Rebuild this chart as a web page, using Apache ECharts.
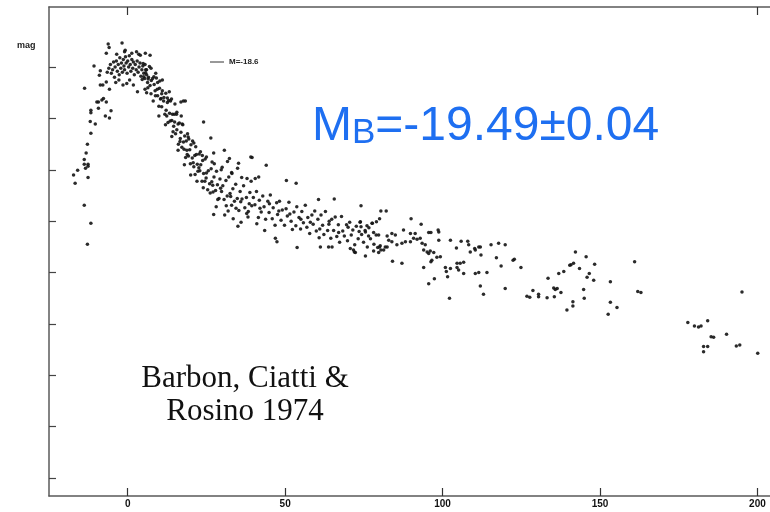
<!DOCTYPE html>
<html>
<head>
<meta charset="utf-8">
<title>SN light curve</title>
<script src="https://cdn.jsdelivr.net/npm/echarts@6/dist/echarts.min.js"></script>
<style>
  html, body { margin: 0; padding: 0; background: #fff; }
  #chart { width: 770px; height: 512px; }
</style>
</head>
<body>
<div id="chart"></div>
<script>
// days from maximum, magnitudes below the top tick (bigger = fainter)
const xTicks = [0, 50, 100, 150, 200];
const topTicks = [0, 200];
const yTicks = [0, 1, 2, 3, 4, 5, 6, 7, 8];

// rising branch
const risePts = [
  [-11.7, 1.29], [-12.8, 1.50], [-13.2, 1.67], [-13.8, 1.80], [-13.8, 1.89], [-12.6, 1.89],
  [-12.6, 1.93], [-13.4, 1.97], [-15.9, 2.01], [-17.2, 2.10], [-16.7, 2.26], [-12.6, 2.15],
  [-13.8, 2.69], [-11.7, 3.04], [-12.8, 3.45], [-13.7, 0.41], [-11.9, 1.06], [-10.3, 1.11],
  [-11.7, 0.84], [-11.7, 0.89], [-10.7, -0.02], [-9.8, 0.68], [-9.3, 0.68], [-8.2, 0.64],
  [-7.7, 0.61], [-6.8, 0.68], [-9.3, 0.80], [-5.3, 0.85], [-7.1, 0.95], [-5.8, 0.99],
  [-8.7, 0.07], [-9.0, 0.16], [-7.9, 0.35], [-8.7, 0.35], [-5.8, 0.43], [-6.8, 0.29],
  [-6.8, -0.27], [-5.9, -0.38], [-6.2, -0.45], [-0.3, 0.32], [-1.5, 0.35], [3.1, 0.48]
];

// around maximum
const peakPts = [
  [-6.5, 0.10], [-6.0, 0.02], [-5.5, -0.05], [-5.2, 0.12], [-4.8, 0.05], [-4.5, -0.10],
  [-4.2, 0.20], [-4.0, 0.00], [-3.6, -0.12], [-3.3, 0.08], [-3.0, -0.05], [-2.7, 0.15],
  [-2.5, -0.18], [-2.2, 0.02], [-2.0, -0.08], [-1.7, 0.10], [-1.4, -0.15], [-1.2, -0.02],
  [-1.0, 0.05], [-0.7, -0.20], [-0.5, -0.08], [-0.2, 0.12], [0.0, -0.12], [0.3, 0.00],
  [0.5, -0.22], [0.8, -0.05], [1.0, 0.08], [1.3, -0.15], [1.6, 0.02], [1.8, -0.10],
  [2.1, 0.15], [2.4, -0.05], [2.7, 0.05], [3.0, -0.12], [3.3, 0.10], [3.6, 0.00],
  [3.9, -0.08], [4.2, 0.18], [4.5, 0.05], [4.8, -0.02], [5.1, 0.12], [5.4, 0.22],
  [5.7, 0.05], [6.0, 0.15], [6.3, 0.30], [6.6, 0.20], [-3.8, 0.30], [-2.8, 0.25],
  [0.6, 0.25], [1.8, 0.35], [2.8, -0.30], [-1.0, -0.30], [3.5, -0.25], [-3.5, -0.25],
  [5.5, -0.05], [-1.8, -0.47], [4.0, -0.23], [5.6, -0.27], [7.1, -0.23], [1.3, -0.27],
  [-0.8, -0.33]
];

// fast decline
const declinePts = [
  [4.6, 0.24], [4.9, -0.07], [5.1, 0.19], [5.5, 0.43], [5.7, 0.11], [6.0, 0.05], [6.4, 0.40],
  [6.5, 0.23], [6.9, -0.01], [7.1, 0.36], [7.4, 0.52], [7.5, 0.26], [7.9, 0.22], [8.1, 0.66],
  [8.3, 0.19], [8.7, 0.46], [8.8, 0.56], [9.1, 0.21], [9.4, 0.43], [9.5, 0.56], [9.9, 0.76],
  [10.1, 0.41], [10.2, 0.27], [10.6, 0.61], [10.8, 0.77], [11.0, 0.46], [11.4, 0.66], [11.5, 0.59],
  [11.8, 0.92], [12.1, 0.51], [12.2, 0.84], [12.6, 0.69], [12.8, 1.08], [13.0, 0.65], [13.3, 0.90],
  [13.5, 1.05], [13.6, 0.66], [14.0, 1.04], [14.2, 0.92], [14.4, 1.26], [14.8, 0.92], [14.9, 1.07],
  [15.2, 1.30], [15.5, 0.92], [15.6, 1.22], [16.0, 1.11], [16.1, 1.50], [16.4, 1.09], [16.7, 1.39],
  [16.9, 1.27], [17.2, 1.56], [17.3, 1.11], [17.7, 1.46], [17.9, 1.60], [18.1, 1.34], [18.4, 1.76],
  [18.6, 1.44], [18.8, 1.62], [19.2, 1.36], [19.3, 1.73], [19.7, 1.61], [19.9, 1.88], [20.1, 1.51],
  [20.5, 1.77], [20.6, 1.44], [21.0, 1.94], [21.3, 1.72], [21.4, 2.09], [21.8, 1.70], [22.1, 1.89],
  [22.3, 2.03], [22.7, 1.69], [22.9, 2.02], [23.2, 1.90], [23.6, 2.22], [23.8, 1.82], [24.1, 2.07],
  [24.5, 2.22], [24.6, 1.79], [25.0, 2.06], [25.4, 2.39], [25.6, 2.02], [26.0, 2.27], [26.5, 1.98],
  [26.7, 2.23], [27.1, 2.43], [27.4, 2.14], [27.9, 2.40], [28.2, 2.03], [28.5, 2.29], [29.0, 2.56],
  [29.3, 2.18], [29.8, 2.42], [30.2, 2.31], [30.6, 2.58], [31.2, 2.21], [31.6, 2.51], [32.1, 2.14],
  [32.5, 2.46], [33.0, 2.69], [33.4, 2.37], [33.9, 2.61], [34.3, 2.28], [34.8, 2.56], [35.3, 2.79],
  [35.7, 2.42], [36.3, 2.57], [36.8, 2.31], [37.2, 2.74], [37.7, 2.54], [38.3, 2.81], [38.8, 2.44],
  [39.4, 2.70], [39.9, 2.54],
  [6.0, 0.50], [7.4, 0.02], [8.9, 0.12], [9.9, 0.95], [11.0, 0.25], [12.0, 1.12], [13.2, 0.48],
  [14.0, 1.35], [15.0, 0.72], [16.0, 1.62], [17.0, 0.95], [18.0, 1.90], [19.0, 1.30], [20.0, 2.10],
  [21.0, 1.48], [22.0, 2.22], [23.1, 1.65], [24.0, 2.35], [25.0, 1.75], [26.2, 2.45], [27.5, 1.88],
  [28.6, 2.58], [30.0, 1.95], [31.3, 2.70], [33.0, 2.05], [34.4, 2.75], [36.2, 2.15], [37.8, 2.85],
  [39.2, 2.22], [9.5, 0.30], [10.8, 0.52], [12.6, 0.60], [13.9, 0.62], [15.6, 0.88], [17.5, 1.12],
  [19.4, 1.40], [21.6, 1.55], [23.7, 1.72], [26.8, 1.85], [29.7, 2.00],
  [8.4, 0.34], [10.4, 0.62], [12.4, 0.95], [14.6, 1.15], [16.6, 1.45], [18.9, 1.70], [20.8, 1.86],
  [22.6, 1.96], [24.9, 2.16], [27.0, 2.30], [29.5, 2.36], [32.7, 2.52], [35.9, 2.62], [38.6, 2.66],
  [33.5, 2.95], [36.0, 3.02], [38.2, 2.92], [30.8, 2.88], [35.0, 3.10], [28.1, 2.72], [31.9, 2.80],
  [17.7, 0.66], [18.3, 0.66], [16.9, 0.68], [24.1, 1.07], [26.4, 1.38], [27.3, 1.67], [30.7, 1.62],
  [32.3, 1.78], [31.7, 1.84], [35.2, 1.87], [34.9, 1.97], [39.5, 1.76], [37.9, 2.17], [33.1, 2.07],
  [39.1, 1.75], [27.3, 2.87]
];

// slower decline, days 40-80
const slowPts = [
  [40.4, 2.68], [40.9, 2.42], [41.5, 2.93], [41.8, 2.59], [42.4, 2.82], [42.9, 2.51], [43.3, 2.72],
  [43.8, 2.96], [44.5, 2.61], [44.9, 2.83], [45.3, 2.49], [45.9, 2.95], [46.2, 2.74], [46.8, 3.08],
  [47.3, 2.64], [47.6, 2.87], [48.2, 2.61], [48.7, 2.98], [49.1, 2.78], [49.8, 3.08], [50.3, 2.76],
  [50.7, 2.90], [51.2, 2.63], [51.9, 3.00], [52.3, 3.16], [52.8, 2.82], [53.4, 3.09], [53.7, 2.72],
  [54.4, 2.93], [54.9, 3.15], [55.3, 2.81], [55.8, 3.03], [56.4, 2.69], [56.9, 3.12], [57.2, 2.93],
  [57.8, 3.24], [58.5, 2.88], [58.9, 3.06], [59.4, 2.80], [59.9, 3.19], [60.4, 2.96], [60.8, 3.32],
  [61.4, 2.88], [61.9, 3.08], [62.3, 3.26], [62.8, 2.81], [63.5, 3.18], [63.9, 3.06], [64.5, 3.33],
  [64.8, 2.96], [65.4, 3.18], [65.9, 2.92], [66.4, 3.30], [66.9, 3.07], [67.3, 3.41], [67.9, 2.91],
  [68.3, 3.19], [68.8, 3.29], [69.5, 3.07], [69.8, 3.38], [70.5, 3.02], [71.0, 3.27], [71.5, 3.17],
  [72.1, 3.46], [72.6, 3.10], [73.2, 3.34], [73.8, 3.02], [74.3, 3.26], [74.9, 3.41], [75.4, 3.18],
  [76.1, 3.50], [76.6, 3.13], [77.1, 3.34], [77.7, 3.04], [78.2, 3.45], [78.9, 3.27], [79.4, 3.51],
  [42.0, 2.75], [45.0, 2.66], [48.0, 2.80], [51.5, 2.86], [55.0, 2.96], [58.0, 3.02], [61.0, 3.15],
  [64.0, 3.00], [67.0, 3.22], [70.0, 3.12], [73.5, 3.20], [41.0, 3.05], [43.5, 3.18],
  [40.5, 2.17], [41.6, 2.14], [44.0, 1.91], [53.5, 2.26], [50.4, 2.21], [60.6, 2.58], [65.6, 2.57],
  [74.1, 2.70], [46.9, 3.33], [47.4, 3.40], [53.8, 3.51], [61.2, 3.50], [63.8, 3.50], [64.9, 3.50],
  [71.7, 3.56], [72.3, 3.61], [75.5, 3.68], [70.7, 3.53], [72.0, 3.60]
];

// late tail, days 73-125
const tailPts = [
  [73.9, 3.01], [74.1, 3.11], [76.0, 3.09], [77.6, 3.04], [79.0, 3.01], [80.0, 2.95], [75.5, 3.21],
  [78.1, 3.22], [76.5, 3.29], [79.7, 3.27], [82.4, 3.29], [83.9, 3.24], [85.0, 3.27], [82.9, 3.37],
  [83.9, 3.40], [81.8, 3.50], [80.2, 3.48], [81.3, 3.56], [78.1, 3.58], [79.7, 3.61], [85.5, 3.46],
  [87.1, 3.43], [88.2, 3.40], [87.6, 3.17], [89.8, 3.24], [91.3, 3.24], [90.8, 3.33], [91.9, 3.35],
  [92.9, 3.33], [93.5, 3.43], [89.8, 3.40], [94.0, 3.56], [95.1, 3.60], [96.1, 3.58], [95.6, 3.63],
  [97.2, 3.61], [96.6, 3.76], [96.3, 3.79], [98.2, 3.70], [98.8, 3.21], [98.8, 3.37], [94.5, 3.46],
  [105.6, 3.82], [112.2, 3.66], [80.4, 2.80], [82.1, 2.80], [90.0, 2.95], [93.2, 3.06], [98.6, 3.17],
  [96.3, 3.22], [95.6, 3.22], [102.5, 3.37], [105.9, 3.39], [108.0, 3.39], [108.3, 3.46], [115.4, 3.46],
  [117.8, 3.43], [119.9, 3.46], [104.4, 3.52], [110.2, 3.53], [111.5, 3.50], [84.1, 3.78], [87.1, 3.82],
  [94.0, 3.90], [97.4, 4.12], [95.6, 4.22], [102.2, 4.50], [112.0, 4.26], [113.0, 4.42], [119.9, 4.31],
  [124.9, 3.90], [118.6, 3.87], [122.4, 3.76], [122.8, 3.74], [117.1, 3.71], [114.1, 4.00], [110.4, 4.02],
  [111.5, 4.00], [106.7, 4.02], [105.1, 3.95], [104.6, 3.90], [102.5, 3.92], [100.9, 3.90], [101.2, 3.98],
  [101.6, 4.08], [99.3, 3.69], [106.7, 3.80], [104.6, 3.82], [108.8, 3.60], [110.4, 3.56], [112.0, 3.50],
  [80.0, 3.50], [80.4, 3.56], [82.4, 3.50]
];

// last months
const latePts = [
  [142.2, 3.60], [145.6, 3.69], [148.3, 3.84], [141.6, 3.82], [140.8, 3.85], [140.4, 3.86], [143.5, 3.92],
  [138.5, 3.98], [136.9, 4.02], [133.5, 4.11], [146.6, 4.02], [145.9, 4.09], [148.0, 4.15], [135.3, 4.30],
  [136.4, 4.31], [135.8, 4.33], [137.6, 4.39], [144.8, 4.33], [145.0, 4.50], [141.4, 4.57], [141.4, 4.65],
  [139.5, 4.73], [153.3, 4.18], [153.3, 4.58], [155.4, 4.68], [152.6, 4.81], [161.0, 3.79], [162.0, 4.37],
  [163.0, 4.39], [195.1, 4.38], [177.9, 4.97], [180.0, 5.04], [181.3, 5.06], [182.1, 5.04], [184.2, 4.94],
  [185.3, 5.25], [186.1, 5.26], [190.2, 5.20], [182.9, 5.44], [184.2, 5.44], [182.9, 5.54], [193.3, 5.43],
  [194.4, 5.41], [200.1, 5.57], [126.8, 4.46], [127.7, 4.48], [128.7, 4.35], [130.5, 4.42], [130.5, 4.47],
  [133.2, 4.49], [135.5, 4.47]
];

const chart = echarts.init(document.getElementById('chart'), null, { renderer: 'canvas' });

const axisGray = '#5a5a5a';
const dotStyle = { color: '#141414', opacity: 0.9 };

function dots(name, data) {
  return {
    name: name,
    type: 'scatter',
    symbol: 'circle',
    symbolSize: 3.5,
    itemStyle: dotStyle,
    data: data,
    silent: true
  };
}

const option = {
  animation: false,
  backgroundColor: '#fff',
  grid: { left: 49, right: 0, top: 7, bottom: 16 },
  xAxis: [
    {
      type: 'value',
      min: -25,
      max: 204,
      position: 'bottom',
      axisLine: { onZero: false, lineStyle: { color: axisGray, width: 1.5 } },
      axisTick: { inside: true, length: 8, customValues: xTicks, lineStyle: { color: '#333', width: 1.2 } },
      axisLabel: {
        customValues: xTicks,
        margin: 3,
        color: '#111',
        fontSize: 10,
        fontWeight: 'bold',
        fontFamily: 'Liberation Sans, Arial, sans-serif'
      },
      splitLine: { show: false }
    },
    {
      type: 'value',
      min: -25,
      max: 204,
      position: 'top',
      axisLine: { onZero: false, lineStyle: { color: axisGray, width: 1.5 } },
      axisTick: { inside: true, length: 8, customValues: topTicks, lineStyle: { color: '#333', width: 1.2 } },
      axisLabel: { show: false },
      splitLine: { show: false }
    }
  ],
  yAxis: {
    type: 'value',
    inverse: true,
    min: -1.17,
    max: 8.35,
    axisLine: { show: true, onZero: false, lineStyle: { color: axisGray, width: 1.5 } },
    axisTick: { show: true, inside: true, length: 7, customValues: yTicks, lineStyle: { color: '#444', width: 1.2 } },
    axisLabel: { show: false },
    splitLine: { show: false }
  },
  series: [
    dots('rise', risePts),
    dots('peak', peakPts),
    dots('decline', declinePts),
    dots('slow', slowPts),
    dots('tail', tailPts),
    dots('late', latePts)
  ],
  graphic: [
    {
      type: 'text',
      left: 17,
      top: 41,
      style: { text: 'mag', font: 'bold 9px Liberation Sans, Arial, sans-serif', fill: '#222' }
    },
    {
      type: 'line',
      shape: { x1: 210, y1: 62, x2: 224, y2: 62 },
      style: { stroke: '#333', lineWidth: 1 }
    },
    {
      type: 'text',
      left: 229,
      top: 58,
      style: { text: 'M=-18.6', font: 'bold 8px Liberation Sans, Arial, sans-serif', fill: '#222' }
    },
    {
      type: 'text',
      left: 312,
      top: 103,
      style: {
        text: '{m|M}{b|B}{m|=-19.49±0.04}',
        fill: '#1e6ff1',
        rich: {
          m: { fontSize: 48, fontFamily: 'Liberation Sans, Arial, sans-serif', fill: '#1e6ff1', verticalAlign: 'bottom' },
          b: { fontSize: 35, fontFamily: 'Liberation Sans, Arial, sans-serif', fill: '#1e6ff1', verticalAlign: 'bottom' }
        }
      }
    },
    {
      type: 'text',
      x: 245,
      y: 362,
      style: {
        text: 'Barbon, Ciatti &\nRosino 1974',
        align: 'center',
        font: '31px Liberation Serif, Times New Roman, serif',
        lineHeight: 33,
        fill: '#111'
      }
    }
  ]
};

chart.setOption(option);
</script>
</body>
</html>
